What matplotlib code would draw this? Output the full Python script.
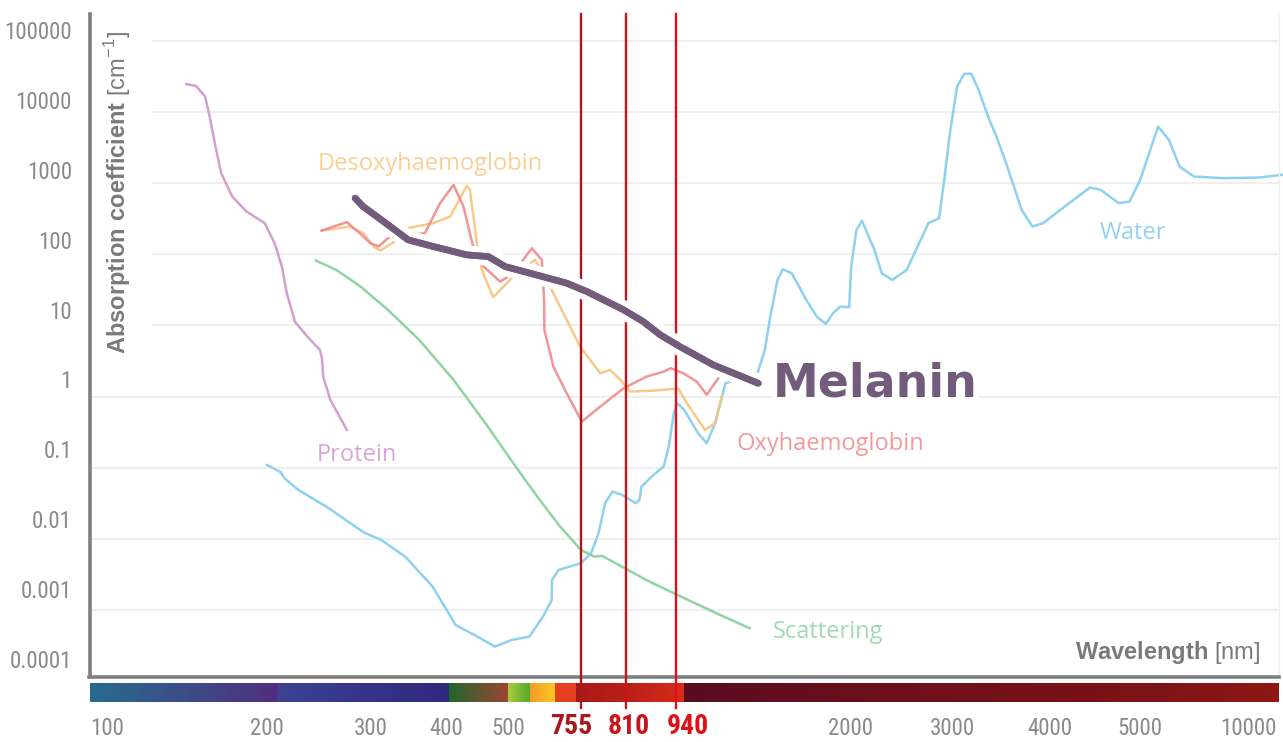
import numpy as np
import matplotlib
matplotlib.use('Agg')
import matplotlib.pyplot as plt
import matplotlib.patheffects as pe
from matplotlib import font_manager
from matplotlib.colors import LinearSegmentedColormap
from matplotlib.transforms import ScaledTranslation

# ---- data (wavelength in nm, absorption coefficient in 1/cm) ----
protein_nm = [141, 147, 153, 156, 160, 164, 172, 183, 198, 206, 212, 216, 223, 234, 246, 248, 249, 256, 273]
protein_val = [24800, 23400, 16600, 8670, 3280, 1390, 650, 400, 275, 144, 67, 28.5, 11.3, 7.0, 4.5, 3.3, 1.9, 0.90, 0.34]

scatter_nm = [242, 262, 288, 320, 361, 411, 465, 522, 598, 671, 755, 771, 780, 801, 860, 945, 1114, 1294]
scatter_val = [81.8, 60.5, 35.3, 16.6, 6.27, 1.72, 0.379, 0.1036, 0.0352, 0.01485, 0.00698, 0.00562,
               0.00575, 0.0043, 0.00264, 0.00163, 0.000916, 0.000553]

deoxy_nm = [247.5, 276, 291, 303, 311, 327, 346, 381, 406, 431, 436, 447, 455, 474, 515, 582, 610, 671,
            751, 778, 790, 803, 820, 879, 949, 985, 1066, 1113, 1146]
deoxy_val = [216, 246, 199, 129, 113, 147, 234, 275, 340, 919, 807, 144, 60.5, 25.0, 48.7, 83.7, 54.4, 18.4,
             5.05, 2.13, 2.37, 1.72, 1.18, 1.21, 1.30, 0.81, 0.34, 0.42, 1.0]

oxy_nm = [247.5, 273, 287, 299, 309, 320, 369, 391, 411, 426, 440, 452, 486, 515, 572, 605, 613, 614, 646,
          696, 756, 778, 807, 861, 907, 925, 970, 1028, 1074, 1129]
oxy_val = [216, 284, 199, 144, 129, 169, 199, 525, 950, 470, 139, 75.2, 41.4, 54.4, 122, 83.7, 22.9, 8.67,
           2.64, 1.12, 0.445, 0.723, 1.31, 1.91, 2.25, 2.51, 2.13, 1.63, 1.06, 1.81]

water_nm = [200, 211, 214, 226, 252, 292, 312, 342, 380, 414, 443, 477, 511, 564, 609, 640, 641, 665,
            755, 767, 776, 784, 793, 805, 834, 843, 848, 879, 906, 920, 934, 945, 974, 1034, 1074, 1114,
            1165, 1340, 1382, 1415, 1460, 1494, 1553, 1654, 1732, 1801, 1858, 1917, 1993, 2009, 2052,
            2097, 2142, 2204, 2268, 2367, 2506, 2616, 2732, 2850, 2911, 2975, 3045, 3110, 3175, 3243,
            3348, 3418, 3528, 3680, 3798, 3921, 4148, 4416, 4536, 4742, 4871, 5005, 5616, 6016, 6447,
            7071, 8500, 10700, 12430]
water_val = [0.1095, 0.0865, 0.0712, 0.0487, 0.0284, 0.01223, 0.00965, 0.00562, 0.00213, 0.000615,
             0.000445, 0.000305, 0.000379, 0.000421, 0.000805, 0.001383, 0.00264, 0.00365, 0.00454,
             0.00627, 0.0120, 0.0317, 0.0461, 0.0414, 0.0317, 0.0352, 0.0542, 0.0792, 0.1036, 0.198,
             0.585, 0.808, 0.650, 0.306, 0.221, 0.422, 1.54, 2.18, 4.54, 13.3, 43.8, 61.9, 54.4, 22.9,
             13.3, 10.5, 14.9, 18.4, 18.1, 67.3, 221, 296, 199, 116, 54.4, 43.8, 60.5, 129, 275, 323,
             1180, 5070, 22900, 34600, 34600, 20600, 7790, 4540, 1718, 423, 246, 275, 470, 871, 807,
             525, 553, 1117, 6270, 4075, 1718, 1242, 1180, 1202, 1313]

melanin_nm = [282, 291, 315, 346, 381, 431, 466, 495, 566, 696, 762, 807, 853, 897, 956, 1105, 1343]
melanin_val = [617, 470, 289, 160, 129, 98.4, 93.1, 67.3, 54.4, 39.4, 30.0, 16.6, 11.3, 7.38, 5.05, 2.79, 1.54]

laser_nm = [755, 810, 940]
laser_colors = ['#a8171a', '#c8141b', '#e0101a']

xtick_nm = [100, 200, 300, 400, 500, 755, 810, 940, 2000, 3000, 4000, 5000, 10000]
ytick_vals = [1e5, 1e4, 1e3, 100, 10, 1, 0.1, 0.01, 0.001, 0.0001]
ytick_labels = ['100000', '10000', '1000', '100', '10', '1', '0.1', '0.01', '0.001', '0.0001']

# spectrum strip under the axis: (from nm, to nm, colour from, colour to)
spectrum = [(85, 209, '#23718f', '#502f80'),
            (209, 404, '#3c4191', '#2f297d'),
            (404, 500, '#23662f', '#9a4432'),
            (500, 566, '#aacb3b', '#55a92f'),
            (566, 652, '#f29a26', '#fdc722'),
            (652, 734, '#e53e1f', '#e53e1f'),
            (734, 973, '#a51914', '#da2a1a'),
            (973, 14000, '#5a0b20', '#901812')]

# the original chart uses a hand-made, uneven wavelength axis
scale_nm = [85, 100, 200, 300, 400, 500, 755, 810, 940, 2000, 3000, 4000, 5000, 10000, 14000]
scale_pos = [69.5, 107, 267, 371, 446, 508, 581, 626, 676, 850, 952, 1050, 1140, 1248, 1300.4]
log_nm = np.log10(scale_nm)


def fwd(x):
    x = np.clip(np.asarray(x, dtype=float), 1e-6, None)
    return np.interp(np.log10(x), log_nm, scale_pos)


def inv(p):
    return 10 ** np.interp(np.asarray(p, dtype=float), scale_pos, log_nm)


# ---- fonts ----
installed = {f.name for f in font_manager.fontManager.ttflist}
narrow, tick_size, bold_size = 'Roboto', 14.5, 17.5
for cand in ['Liberation Sans Narrow', 'Roboto Condensed', 'Open Sans Condensed', 'Noto Sans Condensed']:
    if cand in installed:
        narrow, tick_size, bold_size = cand, 16.5, 20
        break
plt.rcParams['mathtext.fontset'] = 'custom'
plt.rcParams['mathtext.rm'] = 'Liberation Sans'
plt.rcParams['mathtext.bf'] = 'Liberation Sans:bold'

grey = '#8a8a8a'
label_grey = '#7a7a7a'

fig = plt.figure(figsize=(12.83, 7.42), dpi=100)
W, H = 1283, 742
ax = fig.add_axes([89.5 / W, 65 / H, (1279 - 89.5) / W, 663 / H])
bar = fig.add_axes([89.5 / W, 40 / H, (1279 - 89.5) / W, 19 / H], sharex=ax)
ax.set_zorder(2)
bar.set_zorder(1)

ax.set_xscale('function', functions=(fwd, inv))
ax.set_yscale('log')
ax.set_xlim(92.7, 12200)
ax.set_ylim(1.14e-4, 2.4e5)

# spectrum strip
for a, b, c0, c1 in spectrum:
    xs = np.geomspace(a, b, 60)
    cmap = LinearSegmentedColormap.from_list('seg', [c0, c1])
    bar.pcolormesh(xs, [0, 1], np.linspace(0, 1, 59)[None, :], cmap=cmap, vmin=0, vmax=1,
                   shading='flat', edgecolors='none', antialiased=False)
bar.set_ylim(0, 1)
bar.axis('off')

# grid lines: the upper ones stop short of the axis label
for v in [1e5, 1e4, 1e3, 100, 10, 1, 0.1, 0.01, 0.001]:
    start = (153 - 89.5) / (1279 - 89.5) if v >= 10 else 0.0
    ax.axhline(v, xmin=start, xmax=1, color='#efefef', lw=1.6, zorder=0)

# spines
for side in ['left', 'bottom']:
    ax.spines[side].set_color('#7f7f7f')
    ax.spines[side].set_linewidth(2.6)
ax.spines['top'].set_visible(False)
ax.spines['right'].set_color('#eeeeee')
ax.spines['right'].set_linewidth(1)

# y tick labels (drawn as text, they sit a little above their grid lines)
ax.tick_params(axis='y', which='both', left=False, labelleft=False)
ytr = ax.get_yaxis_transform()
for i, (v, s) in enumerate(zip(ytick_vals, ytick_labels)):
    tr = ytr + ScaledTranslation(0, (8.5 + 1.23 * i) / 100, fig.dpi_scale_trans)
    ax.text(-0.0147, v, s, transform=tr, ha='right', va='center', fontsize=tick_size,
            family=narrow, color=grey, clip_on=False)

# x ticks
ax.set_xticks(xtick_nm)
ax.set_xticklabels([str(t) for t in xtick_nm])
ax.xaxis.set_minor_locator(matplotlib.ticker.NullLocator())
ax.tick_params(axis='x', length=0, pad=29, labelsize=tick_size, labelcolor=grey)
shift = {755: -10, 810: 3, 940: 12}
for t, lab in zip(xtick_nm, ax.get_xticklabels()):
    lab.set_family(narrow)
    if t in shift:
        lab.set_fontweight('bold')
        lab.set_fontsize(bold_size)
        lab.set_color(laser_colors[laser_nm.index(t)])
        lab.set_transform(lab.get_transform() + ScaledTranslation(shift[t] / 100, 0.045, fig.dpi_scale_trans))

# curves
ax.plot(water_nm, water_val, color='#8ed1ef', lw=1.8, zorder=2, clip_on=False)
ax.plot(scatter_nm, scatter_val, color='#8fd4a2', lw=1.8, zorder=2)
ax.plot(protein_nm, protein_val, color='#d49fd0', lw=1.8, zorder=2)
ax.plot(deoxy_nm, deoxy_val, color='#f8c47f', lw=1.8, zorder=2, alpha=0.9)
ax.plot(oxy_nm, oxy_val, color='#f08a8c', lw=1.8, zorder=2, alpha=0.9)

# laser wavelengths
for nm, c in zip(laser_nm, laser_colors):
    ax.axvline(nm, ymin=-0.0468, ymax=1, color=c, lw=1.7, zorder=3, clip_on=False)

ax.plot(melanin_nm, melanin_val, color='#735c7b', lw=4.8, solid_capstyle='round',
        solid_joinstyle='round', zorder=5,
        path_effects=[pe.withStroke(linewidth=13.5, foreground='white'), pe.Normal()])

# curve names
ax.text(244, 1543, 'Desoxyhaemoglobin', family='Open Sans', fontsize=17, color='#fbcf95', va='baseline')
ax.text(243, 0.125, 'Protein', family='Open Sans', fontsize=17, color='#d9a6d8', va='baseline')
ax.text(1220, 0.178, 'Oxyhaemoglobin', family='Open Sans', fontsize=17, color='#f29b9d', va='baseline')
ax.text(1431, 0.0004, 'Scattering', family='Open Sans', fontsize=17, color='#9edcaf', va='baseline')
ax.text(4529, 164, 'Water', family='Open Sans', fontsize=17, color='#94d3ef', va='baseline')
ax.text(1431, 1.0, 'Melanin', family='DejaVu Sans', fontweight='bold', fontsize=33, color='#735c7b',
        va='baseline', zorder=6, bbox=dict(facecolor='white', edgecolor='none', pad=0))

# axis titles
ax.text(0.024, 0.7315, r'$\mathbf{Absorption\ coefficient}$ [cm$^{-1}$]', transform=ax.transAxes,
        rotation=90, ha='center', va='center', family='Liberation Sans', fontsize=17, color=label_grey)
ax.text(0.984, 0.0377, r'$\mathbf{Wavelength}$ [nm]', transform=ax.transAxes, ha='right', va='center',
        family='Liberation Sans', fontsize=17, color=label_grey)

fig.savefig('out.png', dpi=100, facecolor='white')
